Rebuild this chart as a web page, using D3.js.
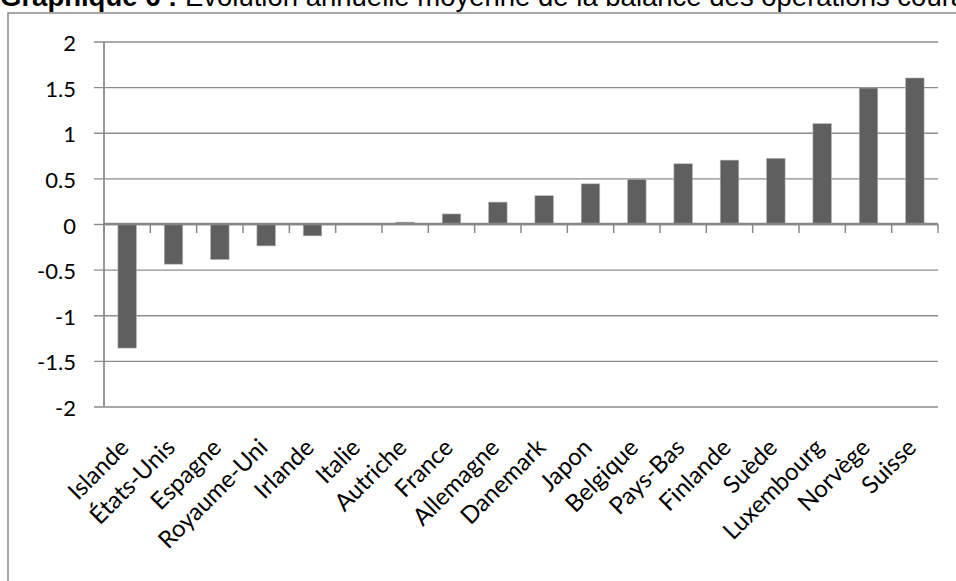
<!DOCTYPE html>
<html>
<head>
<meta charset="utf-8">
<script src="https://cdn.jsdelivr.net/npm/d3@7"></script>
<style>
  html, body { margin: 0; padding: 0; background: #ffffff; overflow: hidden; }
  svg { display: block; }
</style>
</head>
<body>
<svg id="chart" width="956" height="581"></svg>
<script>
// Average annual change of the current account balance, by country
const countries = ["Islande", "États-Unis", "Espagne", "Royaume-Uni", "Irlande", "Italie",
  "Autriche", "France", "Allemagne", "Danemark", "Japon", "Belgique", "Pays-Bas",
  "Finlande", "Suède", "Luxembourg", "Norvège", "Suisse"];
const balanceChange = [-1.36, -0.44, -0.39, -0.24, -0.13, 0, 0.02, 0.11, 0.24, 0.31,
  0.44, 0.49, 0.66, 0.70, 0.72, 1.10, 1.49, 1.60];
const yTickValues = [2, 1.5, 1, 0.5, 0, -0.5, -1, -1.5, -2];
const yTickLabels = ["2", "1.5", "1", "0.5", "0", "-0.5", "-1", "-1.5", "-2"];
const titleBold = "Graphique 6 :";
const titleRest = "Évolution annuelle moyenne de la balance des opérations courantes";

const svg = d3.select("#chart");
const labelFont = "Lato, 'Open Sans', sans-serif";

// outer chart frame (runs past the right and bottom edges)
svg.append("rect")
  .attr("x", 8).attr("y", 13)
  .attr("width", 1000).attr("height", 700)
  .attr("fill", "#ffffff")
  .attr("stroke", "#8a8a8a").attr("stroke-width", 1.5);

// title
const title = svg.append("text")
  .attr("x", 0).attr("y", 6)
  .attr("font-family", "'Liberation Sans', Arial, sans-serif")
  .attr("font-size", 27.5)
  .attr("fill", "#000");
title.append("tspan").attr("font-weight", "bold").text(titleBold);
title.append("tspan").text(" " + titleRest);

// plot area
const plot = { left: 104, right: 938, top: 41.5, bottom: 406.5 };

const x = d3.scaleBand()
  .domain(countries)
  .range([plot.left, plot.right])
  .paddingInner(0.6)
  .paddingOuter(0.3);

const y = d3.scaleLinear()
  .domain([-2, 2])
  .range([plot.bottom, plot.top]);

// horizontal gridlines with their left tick marks
const yAxis = d3.axisLeft(y)
  .tickValues(yTickValues)
  .tickSize(0)
  .tickFormat((d, i) => yTickLabels[i]);

const gy = svg.append("g")
  .attr("transform", `translate(${plot.left},0)`)
  .call(yAxis);
gy.select(".domain").remove();
gy.selectAll(".tick line")
  .attr("x1", -10)
  .attr("x2", plot.right - plot.left)
  .attr("stroke", "#8c8c8c")
  .attr("stroke-width", 1.3);
gy.selectAll(".tick text")
  .attr("x", -28)
  .attr("dy", 9)
  .attr("font-family", labelFont)
  .attr("font-size", 22)
  .attr("fill", "#000")
  .attr("text-anchor", "end");

// vertical value axis line
svg.append("line")
  .attr("x1", plot.left).attr("x2", plot.left)
  .attr("y1", plot.top).attr("y2", plot.bottom)
  .attr("stroke", "#8c8c8c").attr("stroke-width", 1.8);

// bars
svg.append("g")
  .selectAll("rect")
  .data(countries)
  .join("rect")
  .attr("x", d => x(d))
  .attr("width", x.bandwidth())
  .attr("y", (d, i) => y(Math.max(0, balanceChange[i])))
  .attr("height", (d, i) => Math.abs(y(balanceChange[i]) - y(0)))
  .attr("fill", "#5f5f5f")
  .attr("stroke", "#b4b4b4")
  .attr("stroke-width", 0.6);

// category axis on the zero line, ticks between categories
const boundaries = d3.range(countries.length + 1)
  .map(i => plot.left + i * (plot.right - plot.left) / countries.length);
svg.append("g")
  .selectAll("line")
  .data(boundaries)
  .join("line")
  .attr("x1", d => d).attr("x2", d => d)
  .attr("y1", y(0)).attr("y2", y(0) + 9)
  .attr("stroke", "#8a8a8a").attr("stroke-width", 1.5);

svg.append("line")
  .attr("x1", plot.left).attr("x2", plot.right)
  .attr("y1", y(0)).attr("y2", y(0))
  .attr("stroke", "#868686").attr("stroke-width", 2.6);

// rotated category labels below the plot area
svg.append("g")
  .selectAll("text")
  .data(countries)
  .join("text")
  .attr("transform", d => `translate(${x(d) + x.bandwidth() / 2 + 3},${449}) rotate(-45)`)
  .attr("text-anchor", "end")
  .attr("font-family", labelFont)
  .attr("font-size", 24)
  .attr("fill", "#000")
  .text(d => d);
</script>
</body>
</html>
